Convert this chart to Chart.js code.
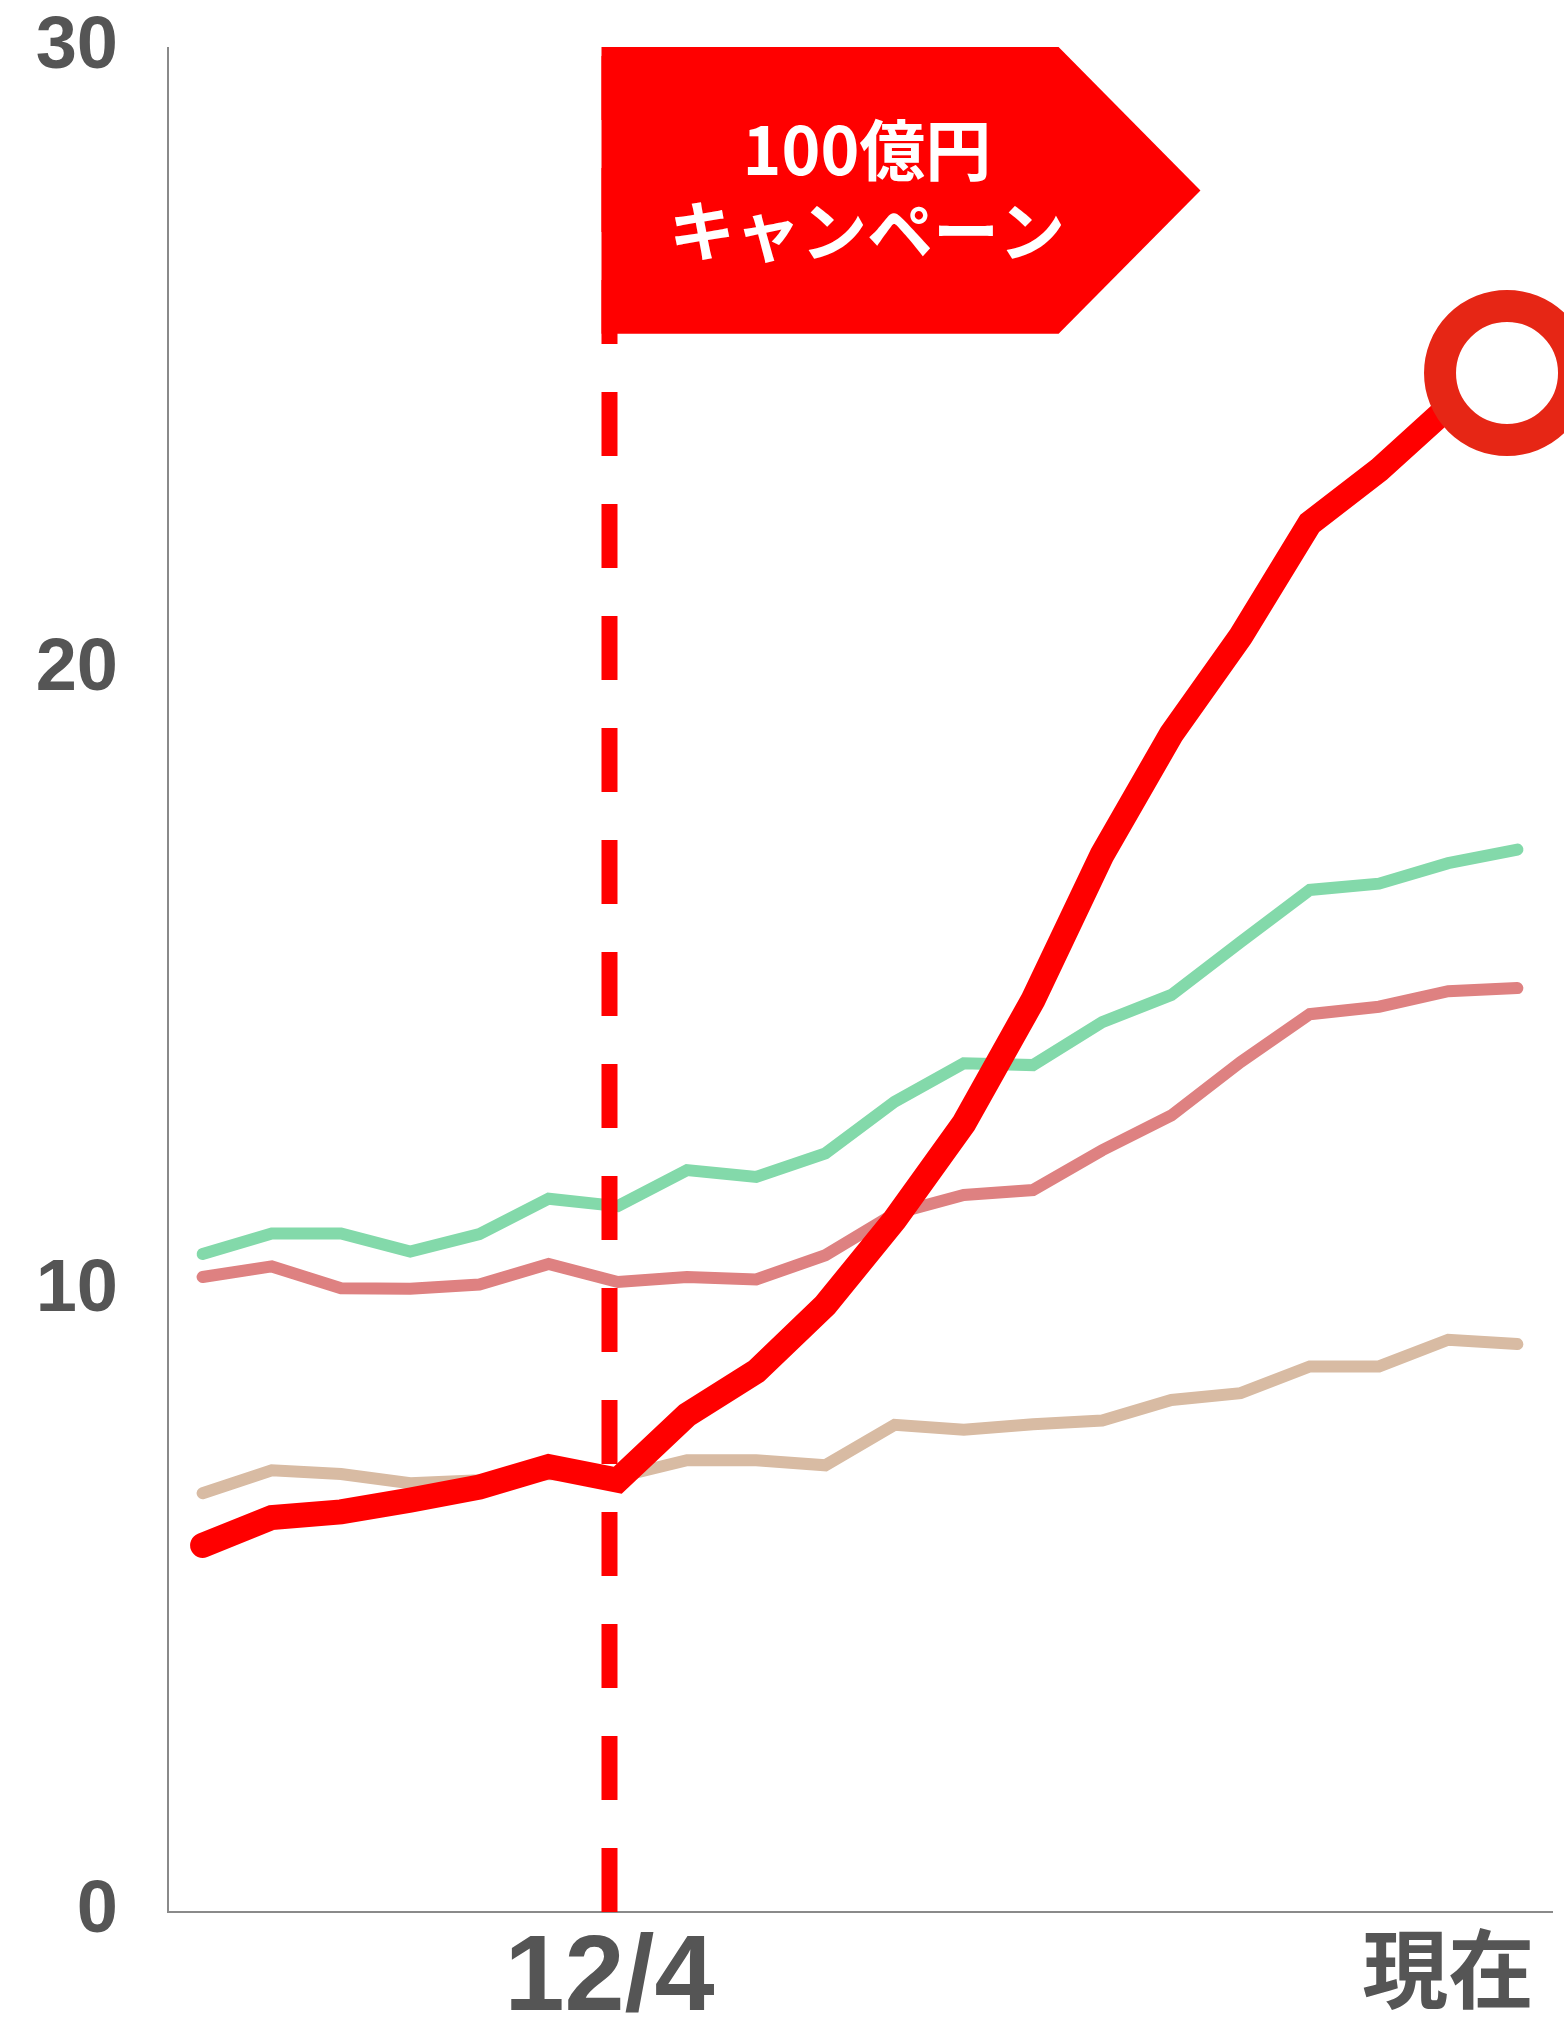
<!DOCTYPE html>
<html lang="ja">
<head>
<meta charset="utf-8">
<title>売上推移</title>
<script src="https://cdn.jsdelivr.net/npm/chart.js@4.4.1/dist/chart.umd.min.js"></script>
<style>
  html, body { margin: 0; padding: 0; background: #ffffff; }
  #wrap { position: relative; width: 1564px; height: 2028px; }
</style>
</head>
<body>
<div id="wrap"><canvas id="chart"></canvas></div>
<script>
// Period index along the x axis (one point per period)
const periods = [0, 1, 2, 3, 4, 5, 6, 7, 8, 9, 10, 11, 12, 13, 14, 15, 16, 17, 18, 19];
// The highlighted series ends at the "now" marker, just short of the last period
const ownPeriods = [0, 1, 2, 3, 4, 5, 6, 7, 8, 9, 10, 11, 12, 13, 14, 15, 16, 17, 18, 18.85];

const ownValues   = [5.90, 6.35, 6.44, 6.63, 6.84, 7.17, 6.95, 8.00, 8.70, 9.77, 11.14, 12.69, 14.68, 17.02, 18.96, 20.53, 22.35, 23.21, 24.22, 24.77];
const greenValues = [10.59, 10.92, 10.92, 10.63, 10.91, 11.48, 11.36, 11.94, 11.83, 12.21, 13.04, 13.66, 13.63, 14.32, 14.76, 15.61, 16.45, 16.55, 16.88, 17.10];
const pinkValues  = [10.22, 10.39, 10.04, 10.03, 10.10, 10.43, 10.14, 10.22, 10.18, 10.57, 11.24, 11.54, 11.62, 12.26, 12.82, 13.68, 14.45, 14.57, 14.82, 14.87];
const tanValues   = [6.74, 7.11, 7.05, 6.90, 6.95, 7.05, 7.00, 7.27, 7.27, 7.19, 7.84, 7.76, 7.85, 7.91, 8.24, 8.35, 8.78, 8.78, 9.21, 9.14];

// Axis ticks
const yTicks = [0, 10, 20, 30];
const campaignStart = 5.88;           // start of the campaign (12/4)
const xTickValues = [campaignStart, 18];
const xTickLabels = ['12/4', '現在'];

// Campaign banner
const bannerLines = ['100億円', 'キャンペーン'];

const pts = (xs, ys) => ys.map((y, i) => ({ x: xs[i], y }));

const bannerPlugin = {
  id: 'campaignBanner',
  afterDatasetsDraw(chart) {
    const { ctx, scales: { x, y } } = chart;
    const left = x.getPixelForValue(campaignStart) - 8;
    const top = y.getPixelForValue(30) - 1;
    const bottom = y.getPixelForValue(25.4);
    const right = x.getPixelForValue(12.37);
    const tip = x.getPixelForValue(14.42);
    const mid = (top + bottom) / 2;
    ctx.save();
    ctx.fillStyle = '#ff0000';
    ctx.beginPath();
    ctx.moveTo(left, top);
    ctx.lineTo(right, top);
    ctx.lineTo(tip, mid);
    ctx.lineTo(right, bottom);
    ctx.lineTo(left, bottom);
    ctx.closePath();
    ctx.fill();
    ctx.fillStyle = '#ffffff';
    ctx.font = 'bold 66px "Noto Sans CJK JP", sans-serif';
    ctx.textAlign = 'center';
    ctx.textBaseline = 'middle';
    const cx = x.getPixelForValue(9.6);
    ctx.fillText(bannerLines[0], cx, y.getPixelForValue(28.36));
    ctx.fillText(bannerLines[1], cx, y.getPixelForValue(27.06));
    ctx.restore();
  }
};

const lineStyle = {
  pointRadius: 0,
  borderCapStyle: 'round',
  borderJoinStyle: 'miter',
  tension: 0,
  fill: false
};

new Chart(document.getElementById('chart'), {
  type: 'line',
  data: {
    datasets: [
      {
        ...lineStyle,
        label: '自社',
        data: pts(ownPeriods, ownValues),
        borderColor: '#ff0000',
        borderWidth: 25,
        pointRadius: ctx => (ctx.dataIndex === ownValues.length - 1 ? 67 : 0),
        pointBorderWidth: 32,
        pointBackgroundColor: '#ffffff',
        pointBorderColor: '#e62615',
        clip: false,
        order: 0
      },
      {
        label: 'キャンペーン開始',
        data: [{ x: campaignStart, y: 0 }, { x: campaignStart, y: 30 }],
        borderColor: '#ff0000',
        borderWidth: 16,
        borderDash: [64, 48],
        borderCapStyle: 'butt',
        pointRadius: 0,
        order: 1
      },
      { ...lineStyle, label: 'C社', data: pts(periods, tanValues), borderColor: '#d8bba3', borderWidth: 12, order: 2 },
      { ...lineStyle, label: 'B社', data: pts(periods, pinkValues), borderColor: '#de8181', borderWidth: 12, order: 3 },
      { ...lineStyle, label: 'A社', data: pts(periods, greenValues), borderColor: '#83d9aa', borderWidth: 12, order: 4 }
    ]
  },
  options: {
    responsive: true,
    maintainAspectRatio: false,
    animation: false,
    events: [],
    layout: { autoPadding: false, padding: { left: 36, top: 48, right: 12, bottom: 0 } },
    plugins: { legend: { display: false }, tooltip: { enabled: false } },
    scales: {
      x: {
        type: 'linear',
        min: -0.5,
        max: 19.5,
        grid: { display: false, drawTicks: false, tickLength: 0 },
        border: { display: true, color: '#8a8a8a', width: 2 },
        afterBuildTicks: axis => { axis.ticks = xTickValues.map(v => ({ value: v })); },
        afterFit: axis => { axis.height = 116; axis.paddingLeft = 0; axis.paddingRight = 0; },
        ticks: {
          autoSkip: false,
          maxRotation: 0,
          padding: 14,
          color: '#555555',
          callback: (value, index) => xTickLabels[index],
          font: ctx => (ctx.index === 1
            ? { family: '"Noto Sans CJK JP", sans-serif', size: 86, weight: 'bold', lineHeight: 1.0 }
            : { family: '"Liberation Sans", Arial, sans-serif', size: 108, weight: 'bold', lineHeight: 1.0 })
        }
      },
      y: {
        min: 0,
        max: 30,
        grid: { display: false, drawTicks: false, tickLength: 0 },
        border: { display: true, color: '#8a8a8a', width: 2 },
        afterBuildTicks: axis => { axis.ticks = yTicks.map(v => ({ value: v })); },
        afterFit: axis => { axis.width = 132; axis.paddingTop = 0; axis.paddingBottom = 0; },
        ticks: {
          padding: 50,
          color: '#555555',
          font: { family: '"Liberation Sans", Arial, sans-serif', size: 74, weight: 'bold' }
        }
      }
    }
  },
  plugins: [bannerPlugin]
});
</script>
</body>
</html>
